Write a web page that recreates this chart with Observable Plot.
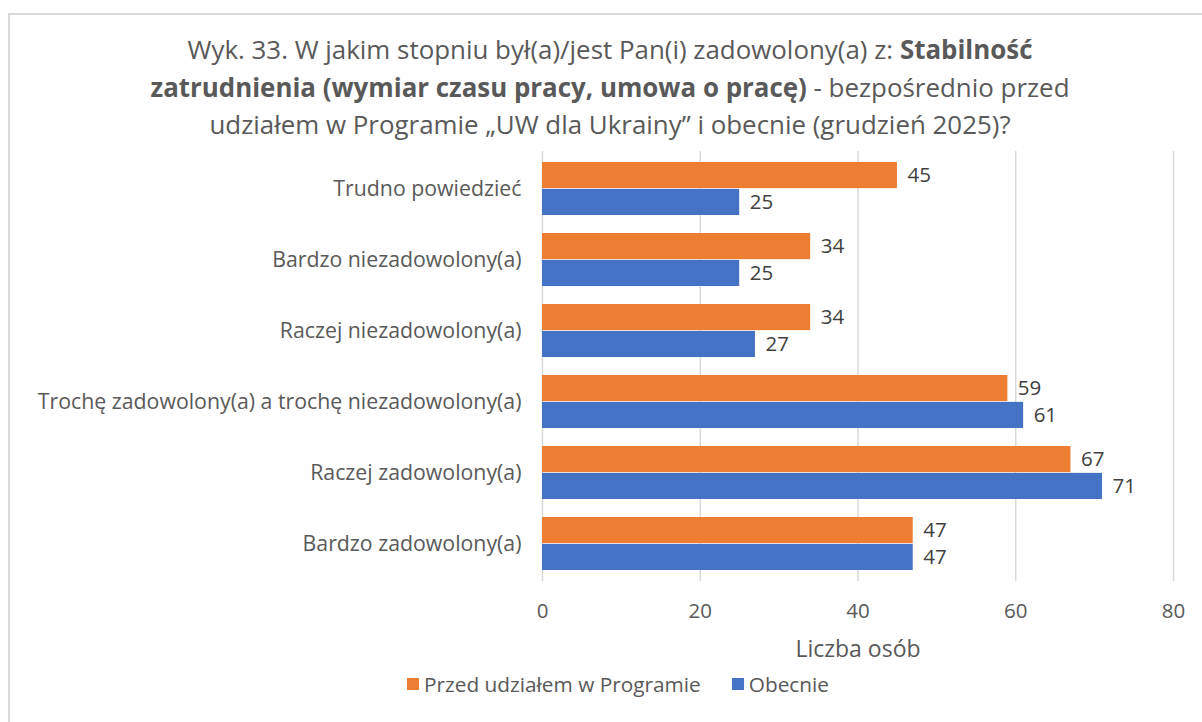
<!DOCTYPE html>
<html>
<head>
<meta charset="utf-8">
<script src="https://cdn.jsdelivr.net/npm/d3@7"></script>
<script src="https://cdn.jsdelivr.net/npm/@observablehq/plot@0.6"></script>
<style>
  html, body { margin: 0; padding: 0; background: #fff; }
  body { width: 1202px; height: 722px; position: relative; overflow: hidden; font-family: "Open Sans", sans-serif; color: #595959; }
  #frame { position: absolute; left: 8px; top: 13px; width: 1300px; height: 800px; border: 2px solid #d9d9d9; box-sizing: border-box; }
  #title { position: absolute; left: 10px; width: 1200px; top: 31px; text-align: center; font-size: 25.9px; line-height: 37.5px; color: #595959; }
  #chart { position: absolute; left: 0; top: 140px; }
  #xlabel { position: absolute; left: 708px; width: 300px; top: 632px; text-align: center; font-size: 23px; color: #595959; }
  #legend { position: absolute; left: 407px; top: 670px; font-size: 20.8px; color: #595959; display: flex; align-items: center; white-space: nowrap; }
  #legend .sw { display: inline-block; width: 12px; height: 12px; margin-right: 5px; }
  #legend .item { display: inline-flex; align-items: center; margin-right: 31px; }
</style>
</head>
<body>
<div id="frame"></div>
<div id="title">Wyk. 33. W jakim stopniu był(a)/jest Pan(i) zadowolony(a) z: <b>Stabilność</b><br><b>zatrudnienia (wymiar czasu pracy, umowa o pracę)</b> - bezpośrednio przed<br>udziałem w Programie „UW dla Ukrainy” i obecnie (grudzień 2025)?</div>
<div id="chart"></div>
<div id="xlabel">Liczba osób</div>
<div id="legend"></div>
<script>
const categories = [
  "Trudno powiedzieć",
  "Bardzo niezadowolony(a)",
  "Raczej niezadowolony(a)",
  "Trochę zadowolony(a) a trochę niezadowolony(a)",
  "Raczej zadowolony(a)",
  "Bardzo zadowolony(a)"
];
const seriesNames = ["Przed udziałem w Programie", "Obecnie"];
const przed = [45, 34, 34, 59, 67, 47];
const obecnie = [25, 25, 27, 61, 71, 47];
const xTicks = [0, 20, 40, 60, 80];
const colors = ["#ED7D31", "#4472C4"];

const dataPrzed = categories.map((c, i) => ({category: c, value: przed[i]}));
const dataObecnie = categories.map((c, i) => ({category: c, value: obecnie[i]}));

const half = 430 / 6 * 0.75 / 2;

const plot = Plot.plot({
  width: 1202,
  height: 500,
  marginLeft: 542,
  marginRight: 29,
  marginTop: 11,
  marginBottom: 59,
  style: { fontFamily: "Open Sans, sans-serif", fontSize: "20.5px", color: "#595959", background: "transparent" },
  x: { domain: [0, 80], ticks: xTicks, label: null },
  y: { domain: categories, paddingInner: 0.25, paddingOuter: 0.125, label: null },
  marks: [
    Plot.ruleX(xTicks, { stroke: "#d9d9d9", strokeWidth: 1.5 }),
    Plot.barX(dataPrzed, { x: "value", y: "category", fill: colors[0], insetBottom: half }),
    Plot.barX(dataObecnie, { x: "value", y: "category", fill: colors[1], insetTop: half }),
    Plot.text(dataPrzed, { x: "value", y: "category", text: d => String(d.value), dy: -half / 2, dx: 10, textAnchor: "start", fill: "#404040", fontSize: 20.5 }),
    Plot.text(dataObecnie, { x: "value", y: "category", text: d => String(d.value), dy: half / 2, dx: 10, textAnchor: "start", fill: "#404040", fontSize: 20.5 }),
    Plot.axisX({ ticks: xTicks, tickSize: 0, tickPadding: 22, label: null, fontSize: 20.5 }),
    Plot.axisY({ tickSize: 0, tickPadding: 21, label: null, fontSize: 21.3 })
  ]
});
document.getElementById("chart").appendChild(plot);

const legend = document.getElementById("legend");
seriesNames.forEach((name, i) => {
  const item = document.createElement("span");
  item.className = "item";
  const sw = document.createElement("span");
  sw.className = "sw";
  sw.style.background = colors[i];
  item.appendChild(sw);
  item.appendChild(document.createTextNode(name));
  legend.appendChild(item);
});
</script>
</body>
</html>
